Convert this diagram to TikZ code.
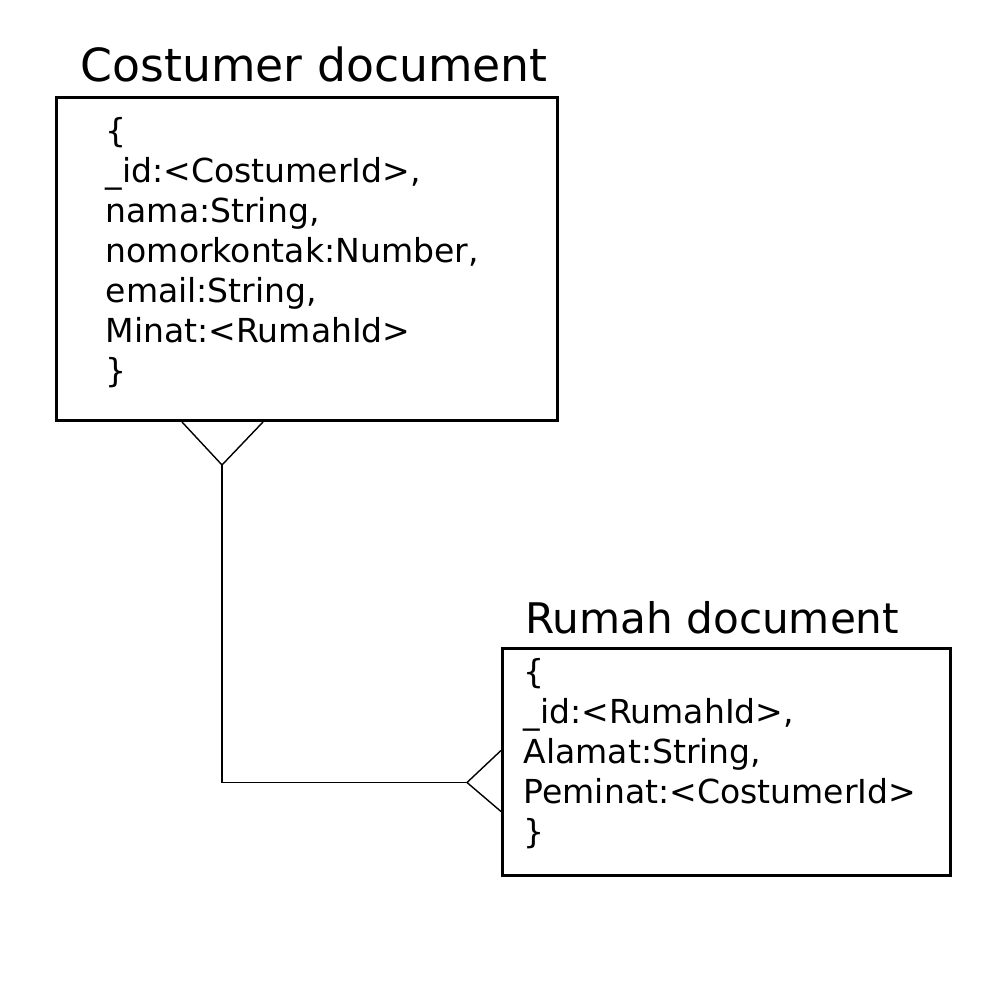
\documentclass[tikz,border=0pt]{standalone}
\usepackage{fontspec}
\setmainfont{DejaVu Sans}
\usetikzlibrary{positioning}
\begin{document}
\begin{tikzpicture}[doc/.style = {draw, rectangle, line width=0.85pt, inner sep=0pt},
  title/.style = {font=\fontsize{13}{15}\selectfont, inner sep=0pt, anchor=base west},
  fields/.style = {font=\fontsize{9.4}{11.4}\selectfont, align=left, inner sep=0pt, anchor=west},
  link/.style = {line width=0.4pt}]
\useasboundingbox (0,0) rectangle (10,-10);

\node[doc, minimum width=5.01cm, minimum height=3.23cm, anchor=north west] (costumer) at (0.55,-0.96) {};
\node[doc, minimum width=4.48cm, minimum height=2.27cm, anchor=north west] (rumah) at (5.01,-6.47) {};

\node[title] (costumertitle) at ([xshift=0.25cm,yshift=0.14cm]costumer.north west) {Costumer document};
\node[title, font=\fontsize{12}{14}\selectfont] (rumahtitle) at ([xshift=0.235cm,yshift=0.14cm]rumah.north west) {Rumah document};

\node[fields] (costumerfields) at ([xshift=0.5cm,yshift=0.065cm]costumer.west) {\{\\\_id:<CostumerId>,\\nama:String,\\nomorkontak:Number,\\email:String,\\Minat:<RumahId>\\\}};
\node[fields] (rumahfields) at ([xshift=0.22cm,yshift=0.08cm]rumah.west) {\{\\\_id:<RumahId>,\\Alamat:String,\\Peminat:<CostumerId>\\\}};

\coordinate (topfoot) at ([xshift=1.67cm,yshift=-0.43cm]costumer.south west);
\coordinate (rightfoot) at ([xshift=-0.34cm,yshift=-0.205cm]rumah.west);

\draw[link] (topfoot) ++(-0.4,0.43) -- (topfoot) -- ++(0.41,0.43);
\draw[link] (topfoot) -- (topfoot |- rightfoot) -- (rightfoot);
\draw[link] (rightfoot) ++(0.34,0.32) -- (rightfoot) -- ++(0.34,-0.29);

\end{tikzpicture}
\end{document}
